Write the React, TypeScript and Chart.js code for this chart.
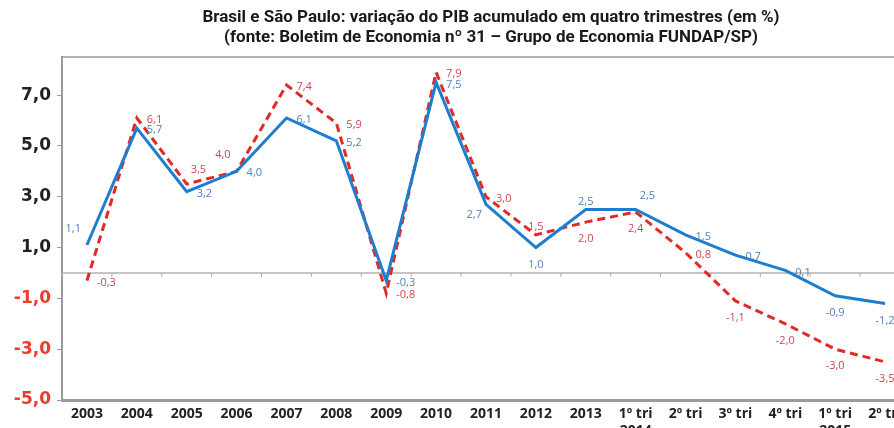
import React, { useEffect, useRef } from "react";
import { Chart, registerables } from "chart.js";

Chart.register(...registerables);

const categories: (string | string[])[] = [
  "2003", "2004", "2005", "2006", "2007", "2008", "2009", "2010", "2011", "2012", "2013",
  ["1º tri", "2014"], "2º tri", "3º tri", "4º tri", ["1º tri", "2015"], "2º tri",
];

const brasil = [1.1, 5.7, 3.2, 4.0, 6.1, 5.2, -0.3, 7.5, 2.7, 1.0, 2.5, 2.5, 1.5, 0.7, 0.1, -0.9, -1.2];
const saoPaulo = [-0.3, 6.1, 3.5, 4.0, 7.4, 5.9, -0.8, 7.9, 3.0, 1.5, 2.0, 2.4, 0.8, -1.1, -2.0, -3.0, -3.5];

const yTicks = [-5, -3, -1, 1, 3, 5, 7];

const titleLines = [
  "Brasil e São Paulo: variação do PIB acumulado em quatro trimestres (em %)",
  "(fonte: Boletim de Economia nº 31 – Grupo de Economia FUNDAP/SP)",
];

// label placement codes (annotation layout)
const brasilLabelPos = ["ul", "r", "r", "r", "r", "r", "r", "r", "dl", "d", "u", "ur", "r", "r", "r", "d", "d"];
const spLabelPos = ["r", "r", "ur", "ul", "r", "r", "r", "r", "r", "u", "d", "d", "r", "d", "d", "d", "d"];

const fmt = (v: number) => v.toFixed(1).replace(".", ",");

const placement: Record<string, { dx: number; dy: number; align: CanvasTextAlign }> = {
  r: { dx: 10, dy: 2, align: "left" },
  ur: { dx: 4, dy: -14, align: "left" },
  ul: { dx: -6, dy: -16, align: "right" },
  dl: { dx: -4, dy: 10, align: "right" },
  u: { dx: 0, dy: -8, align: "center" },
  d: { dx: 0, dy: 17, align: "center" },
};

const labelsPlugin = {
  id: "pointLabels",
  afterDatasetsDraw(chart: any) {
    const ctx = chart.ctx;
    const sets = [
      { idx: 0, pos: brasilLabelPos, color: "#4f81bd" },
      { idx: 1, pos: spLabelPos, color: "#d0454f" },
    ];
    ctx.save();
    ctx.font = "11px 'Open Sans', sans-serif";
    ctx.textBaseline = "middle";
    sets.forEach((s) => {
      const meta = chart.getDatasetMeta(s.idx);
      const data = chart.data.datasets[s.idx].data as number[];
      meta.data.forEach((pt: any, i: number) => {
        const p = placement[s.pos[i]] || placement.r;
        ctx.fillStyle = s.color;
        ctx.textAlign = p.align;
        ctx.fillText(fmt(data[i]), pt.x + p.dx, pt.y + p.dy);
      });
    });
    ctx.restore();
  },
};

const titlePlugin = {
  id: "centeredTitle",
  afterDraw(chart: any) {
    const ctx = chart.ctx;
    ctx.save();
    ctx.font = "bold 17px Roboto, sans-serif";
    ctx.fillStyle = "#1a1a1a";
    ctx.textAlign = "center";
    ctx.textBaseline = "middle";
    const cx = chart.width / 2;
    titleLines.forEach((line, i) => {
      ctx.fillText(line, cx, 18 + i * 20);
    });
    ctx.restore();
  },
};

const framePlugin = {
  id: "frame",
  beforeDatasetsDraw(chart: any) {
    const { ctx, chartArea } = chart;
    const y0 = chart.scales.y.getPixelForValue(0);
    const xs = chart.scales.x;
    ctx.save();
    ctx.strokeStyle = "#9a9a9a";
    ctx.lineWidth = 1.5;
    ctx.beginPath();
    ctx.moveTo(chartArea.left, chartArea.top);
    ctx.lineTo(chartArea.right, chartArea.top);
    ctx.stroke();
    ctx.strokeStyle = "#b0b0b0";
    ctx.lineWidth = 1.5;
    ctx.beginPath();
    ctx.moveTo(chartArea.left, y0);
    ctx.lineTo(chartArea.right, y0);
    ctx.stroke();
    ctx.lineWidth = 1;
    const n = categories.length;
    const step = xs.getPixelForValue(1) - xs.getPixelForValue(0);
    for (let i = 0; i <= n; i++) {
      const x = xs.getPixelForValue(i) - step / 2;
      ctx.beginPath();
      ctx.moveTo(x, y0);
      ctx.lineTo(x, y0 + 4);
      ctx.stroke();
    }
    ctx.restore();
  },
};

export default function App() {
  const ref = useRef<HTMLCanvasElement>(null);
  useEffect(() => {
    if (!ref.current) return;
    const chart = new Chart(ref.current, {
      type: "line",
      data: {
        labels: categories as any,
        datasets: [
          {
            label: "Brasil",
            data: brasil,
            borderColor: "#1f7dd0",
            borderWidth: 3,
            pointRadius: 0,
            tension: 0,
          },
          {
            label: "São Paulo",
            data: saoPaulo,
            borderColor: "#e02a26",
            borderWidth: 3,
            borderDash: [8, 5],
            pointRadius: 0,
            tension: 0,
          },
        ],
      },
      options: {
        animation: false,
        responsive: false,
        layout: { padding: { left: 0, right: 72, top: 57, bottom: 0 } },
        plugins: {
          legend: { display: false },
          tooltip: { enabled: false },
          title: { display: false },
        },
        scales: {
          x: {
            type: "category",
            offset: true,
            grid: { display: false, drawTicks: false },
            border: { display: true, color: "#9a9a9a", width: 3 },
            ticks: {
              color: "#222",
              font: { family: "'Open Sans'", weight: "bold", size: 14 },
              padding: 6,
              maxRotation: 0,
              autoSkip: false,
            },
            afterFit: (s: any) => {
              s.height = 40;
            },
          },
          y: {
            min: -5,
            max: 8.5,
            afterBuildTicks: (axis: any) => {
              axis.ticks = yTicks.map((v) => ({ value: v }));
            },
            grid: { display: true, drawOnChartArea: false, drawTicks: true, tickLength: 5, color: "#9a9a9a" },
            border: { display: true, color: "#9a9a9a", width: 2 },
            ticks: {
              padding: 6,
              font: { family: "'DejaVu Sans'", weight: "bold", size: 17 },
              color: (c: any) => (c.tick && c.tick.value < 0 ? "#ee3b2b" : "#222"),
              callback: (v: any) => fmt(Number(v)),
            },
            afterFit: (s: any) => {
              s.width = 62;
            },
          },
        },
      },
      plugins: [framePlugin, labelsPlugin, titlePlugin],
    });
    return () => chart.destroy();
  }, []);
  return (
    <div style={{ position: "fixed", left: 0, top: 0, width: 894, height: 428, overflow: "hidden", background: "#fff" }}>
      <canvas ref={ref} width={982} height={440} style={{ display: "block" }} />
    </div>
  );
}
